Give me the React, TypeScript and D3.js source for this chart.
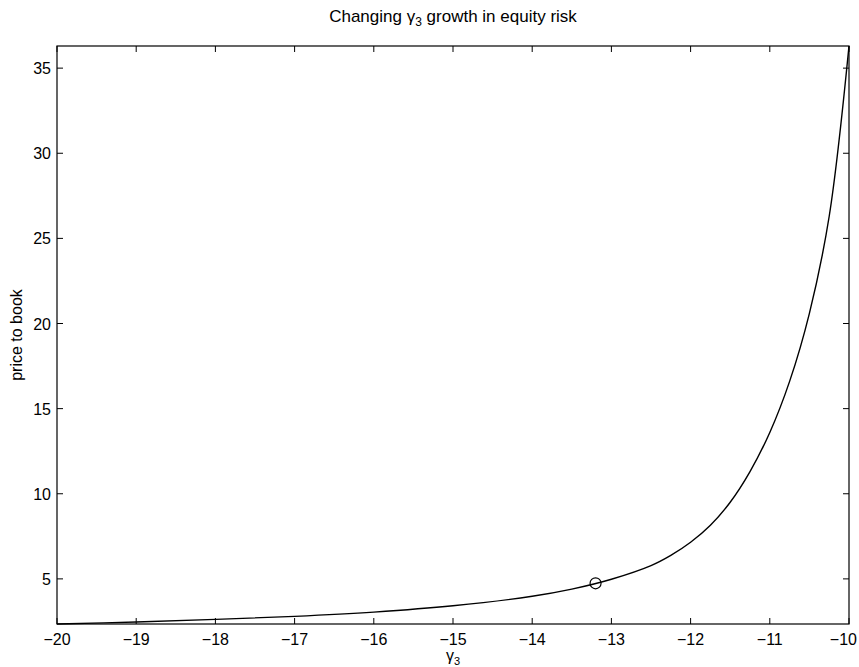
import React, { useEffect, useRef } from "react";
import * as d3 from "d3";

// values
const gamma3 = [-20, -19, -18, -17, -16, -15, -14, -13.5, -13, -12.5, -12.25, -12, -11.75, -11.5, -11.25, -11, -10.75, -10.5, -10.25, -10];
const priceToBook = [2.35, 2.47, 2.62, 2.8, 3.05, 3.42, 3.98, 4.4, 4.98, 5.78, 6.38, 7.15, 8.15, 9.5, 11.3, 13.6, 16.6, 20.6, 26.3, 36.3];
const marker = { gamma: -13.2, value: 4.74 };
const xTicks = [-20, -19, -18, -17, -16, -15, -14, -13, -12, -11, -10];
const yTicks = [5, 10, 15, 20, 25, 30, 35];

const W = 859, H = 667;
const margin = { left: 57, right: 10, top: 46, bottom: 43 };
const FONT = "'Liberation Sans', Arial, Helvetica, sans-serif";

export default function App() {
  const ref = useRef<SVGSVGElement>(null);

  useEffect(() => {
    const svg = d3.select(ref.current);
    svg.selectAll("*").remove();

    const x = d3.scaleLinear().domain([-20, -10]).range([margin.left, W - margin.right]);
    const y = d3.scaleLinear().domain([2.35, 36.3]).range([H - margin.bottom, margin.top]);
    const [x0, x1] = x.range();
    const [y0, y1] = y.range();
    const fmt = (v: number) => (v < 0 ? "\u2212" + Math.abs(v) : String(v));

    svg.append("rect").attr("width", W).attr("height", H).attr("fill", "#fff");

    // box
    svg.append("rect")
      .attr("x", x0).attr("y", y1)
      .attr("width", x1 - x0).attr("height", y0 - y1)
      .attr("fill", "none").attr("stroke", "#000").attr("stroke-width", 1.2);

    const tl = 6;
    const ticks = svg.append("g").attr("stroke", "#000").attr("stroke-width", 1);
    xTicks.forEach((t) => {
      ticks.append("line").attr("x1", x(t)).attr("x2", x(t)).attr("y1", y0).attr("y2", y0 - tl);
      ticks.append("line").attr("x1", x(t)).attr("x2", x(t)).attr("y1", y1).attr("y2", y1 + tl);
    });
    yTicks.forEach((t) => {
      ticks.append("line").attr("x1", x0).attr("x2", x0 + tl).attr("y1", y(t)).attr("y2", y(t));
      ticks.append("line").attr("x1", x1).attr("x2", x1 - tl).attr("y1", y(t)).attr("y2", y(t));
    });

    const labels = svg.append("g").attr("font-family", FONT).attr("font-size", 16).attr("fill", "#000");
    labels.selectAll(".xt").data(xTicks).enter().append("text")
      .attr("x", (d, i) => (i === xTicks.length - 1 ? W - 2 : x(d)))
      .attr("y", y0 + 21)
      .attr("text-anchor", (d, i) => (i === xTicks.length - 1 ? "end" : "middle"))
      .text(fmt);
    labels.selectAll(".yt").data(yTicks).enter().append("text")
      .attr("x", x0 - 6).attr("y", (d) => y(d) + 6)
      .attr("text-anchor", "end")
      .text(fmt);

    const line = d3.line<number>()
      .x((d, i) => x(gamma3[i]))
      .y((d) => y(d))
      .curve(d3.curveCatmullRom.alpha(0.5));

    svg.append("path")
      .datum(priceToBook)
      .attr("d", line)
      .attr("fill", "none").attr("stroke", "#000").attr("stroke-width", 1.4);

    svg.append("circle")
      .attr("cx", x(marker.gamma)).attr("cy", y(marker.value)).attr("r", 5.5)
      .attr("fill", "none").attr("stroke", "#000").attr("stroke-width", 1.2);

    // title
    const title = svg.append("text")
      .attr("x", (x0 + x1) / 2).attr("y", 22)
      .attr("text-anchor", "middle")
      .attr("font-family", FONT).attr("font-size", 17);
    title.append("tspan").text("Changing \u03b3");
    title.append("tspan").attr("font-size", 12).attr("dy", 4).text("3");
    title.append("tspan").attr("dy", -4).text(" growth in equity risk");

    // x label
    const xl = svg.append("text")
      .attr("x", (x0 + x1) / 2).attr("y", 661)
      .attr("text-anchor", "middle")
      .attr("font-family", FONT).attr("font-size", 16);
    xl.append("tspan").text("\u03b3");
    xl.append("tspan").attr("font-size", 11).attr("dy", 4).text("3");

    svg.append("text")
      .attr("transform", `translate(22,${(y0 + y1) / 2}) rotate(-90)`)
      .attr("text-anchor", "middle")
      .attr("font-family", FONT).attr("font-size", 16)
      .text("price to book");
  }, []);

  return (
    <svg ref={ref} width={W} height={H}
      style={{ position: "absolute", left: 0, top: 0, display: "block" }} />
  );
}
